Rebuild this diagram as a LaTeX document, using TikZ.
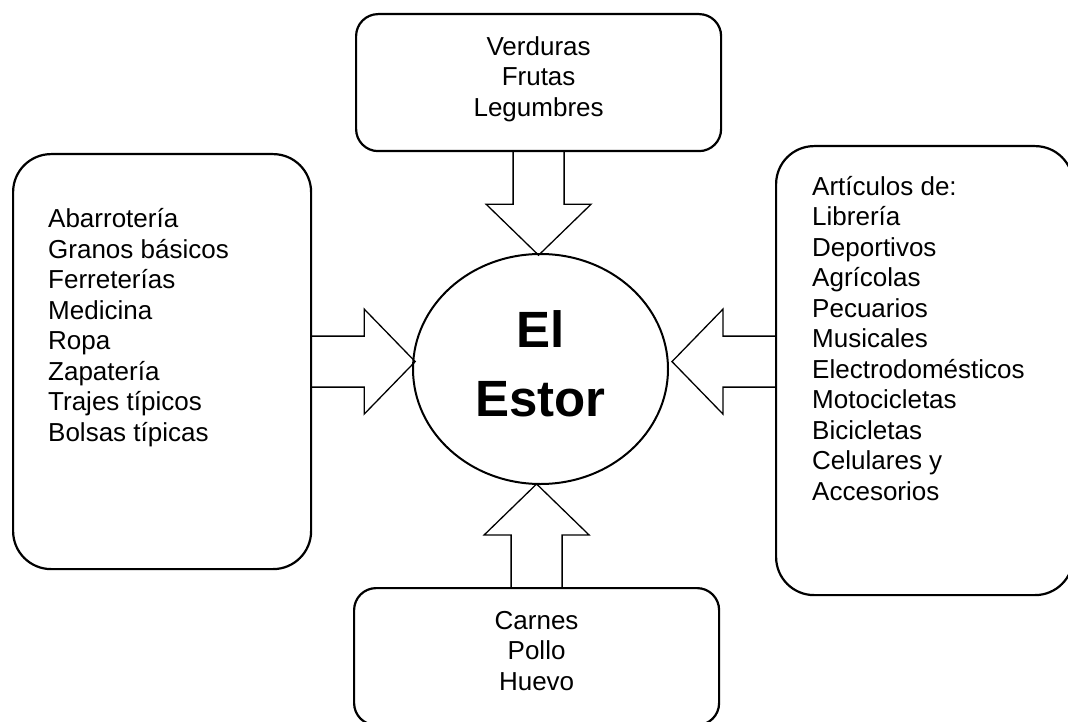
\documentclass[tikz,border=0pt]{standalone}
\usepackage{fontspec}
\setmainfont{Liberation Sans}
\usetikzlibrary{positioning,shapes.geometric}
\tikzset{
  frame/.style={draw=black, line width=2.2pt, rounded corners=#1, inner sep=0pt,
    anchor=north west},
  frame/.default=22pt,
  list/.style={inner sep=0pt, font=\fontsize{26}{30.5}\selectfont},
  town/.style={draw=black, ellipse, line width=2pt, minimum width=255pt,
    minimum height=230pt, inner sep=0pt, align=center,
    font=\fontsize{51}{69}\selectfont\bfseries},
  fat/.style={draw=black, line width=1.3pt, line join=miter},
}
\begin{document}
\begin{tikzpicture}[x=1pt, y=-1pt]
\useasboundingbox (0,0) rectangle (1068,722);

% frames round the centre
\node[frame, minimum width=365pt, minimum height=137pt] (top) at (355,13) {};
\node[frame=38pt, minimum width=298pt, minimum height=415pt] (left) at (12,153) {};
\node[frame=38pt, minimum width=297pt, minimum height=449pt] (right) at (775,145) {};
\node[frame, minimum width=365pt, minimum height=137pt] (bottom) at (353,587) {};

\node[town] (estor) at (540.5,369) {El\\Estor\vphantom{g}};

% contents
\node[list, align=center, below=23.4pt of top.north] (toptext)
  {Verduras\\Frutas\\Legumbres};
\node[list, align=left, below right=55.3pt and 36pt of left.north west] (lefttext)
  {Abarrotería\\Granos básicos\\Ferreterías\\Medicina\\Ropa\\Zapatería\\
   Trajes típicos\\Bolsas típicas};
\node[list, align=left, below right=31pt and 37pt of right.north west] (righttext)
  {Artículos de:\\Librería\\Deportivos\\Agrícolas\\Pecuarios\\Musicales\\
   Electrodomésticos\\Motocicletas\\Bicicletas\\Celulares y\\Accesorios};
\node[list, align=center, below=24pt of bottom.north] (bottomtext)
  {Carnes\\Pollo\\Huevo};

% block arrows into the centre
\foreach \src/\ang in {top.south/-90, left.east/0, bottom.north/90,
    right.west |- left.east/180} {
  \draw[fat, shift={(\src)}, rotate=\ang] (0,-25.5) -- (52,-25.5) -- (52,-52.5)
    -- (103,0) -- (52,52.5) -- (52,25.5) -- (0,25.5);
}

\end{tikzpicture}
\end{document}
